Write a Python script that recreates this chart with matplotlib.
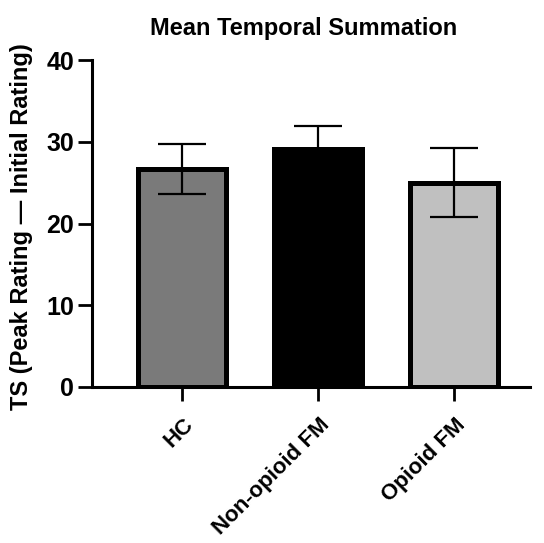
import matplotlib
matplotlib.use("Agg")
import matplotlib.pyplot as plt
from matplotlib.transforms import ScaledTranslation

# Data
groups = ["HC", "Non-opioid FM", "Opioid FM"]
means = [26.7, 29.1, 25.0]
sems = [3.05, 2.8, 4.2]
colors = ["#7a7a7a", "#000000", "#c0c0c0"]

plt.rcParams["font.family"] = ["Liberation Sans", "DejaVu Sans"]
plt.rcParams["font.weight"] = "bold"

fig = plt.figure(figsize=(5.44, 5.43), dpi=100)
ax = fig.add_axes([92 / 544, 1 - 387 / 543, (530 - 92) / 544, (387 - 60) / 543])

x = range(len(groups))
ax.bar(x, means, width=0.65, color=colors, edgecolor="black", linewidth=3.6, zorder=2)
ax.errorbar(x, means, yerr=sems, fmt="none", ecolor="black", elinewidth=1.6,
            capsize=17, capthick=1.6, zorder=3)

ax.set_xlim(-0.66, 2.56)
ax.set_ylim(0, 40)
ax.set_yticks([0, 10, 20, 30, 40])
ax.set_xticks(list(x))
ax.set_xticklabels(groups, rotation=45, ha="right", rotation_mode="anchor", fontsize=16, fontweight="bold")
ax.tick_params(axis="y", labelsize=18, width=2, length=10, pad=3)
ax.tick_params(axis="x", width=2, length=10, pad=9.5)
for lbl in ax.get_yticklabels():
    lbl.set_fontweight("bold")
# nudge the rotated labels a little to the right
shift = ScaledTranslation(1 / 100, 0, fig.dpi_scale_trans)
for lbl in ax.get_xticklabels():
    lbl.set_transform(lbl.get_transform() + shift)

for side in ["top", "right"]:
    ax.spines[side].set_visible(False)
for side in ["left", "bottom"]:
    ax.spines[side].set_linewidth(2.2)

ax.set_ylabel("TS (Peak Rating \u2014 Initial Rating)", fontsize=17, fontweight="bold")
ax.yaxis.set_label_coords((33 - 92) / 438, 0.49)

fig.text(304 / 544, 1 - 35 / 543, "Mean Temporal Summation", fontsize=17, fontweight="bold",
         ha="center", va="baseline")

fig.savefig("out.png", dpi=100)
